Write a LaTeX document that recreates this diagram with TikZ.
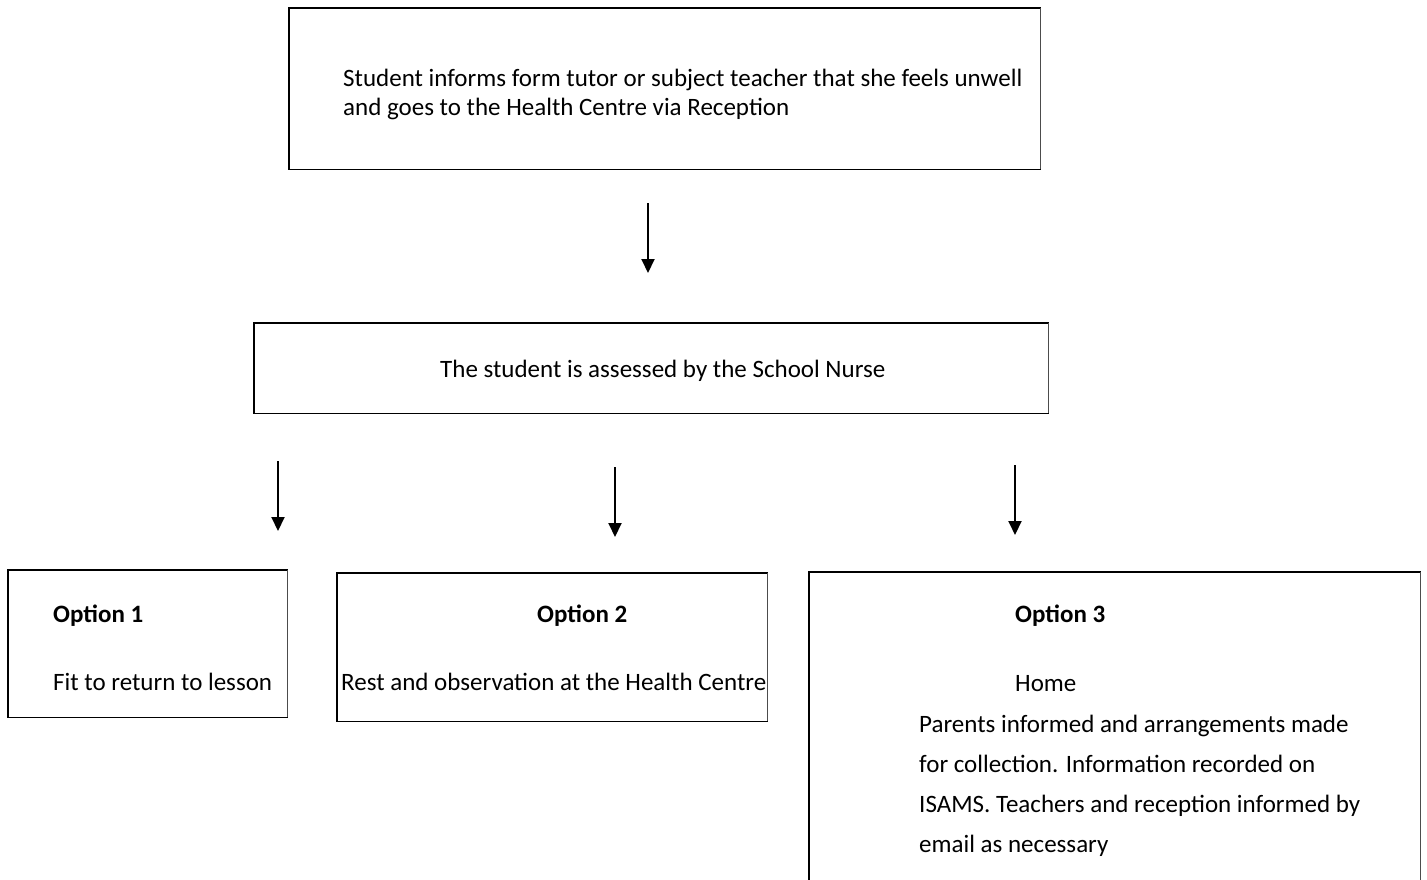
\documentclass[tikz,border=0pt]{standalone}
\usepackage{fontspec}
\setmainfont{Carlito}
\usetikzlibrary{arrows.meta}
\begin{document}
\begin{tikzpicture}[x=1pt,y=-1pt,
  box/.style={inner sep=0pt, anchor=north west},
  edge/.style={draw=black, line width=1.8pt},
  redge/.style={draw=black!70, line width=1.1pt},
  txt/.style={inner sep=0pt, anchor=base west, font=\fontsize{25}{30}\selectfont},
  btxt/.style={txt, font=\fontsize{25}{30}\selectfont\bfseries},
  arr/.style={-{Triangle[length=14pt,width=13pt]}, line width=2pt}]
\useasboundingbox (0,0) rectangle (1427,880);
% boxes
\node[box, minimum width=751pt, minimum height=161pt] (bA) at (289,8) {};
\node[box, minimum width=794pt, minimum height=90pt] (bB) at (254,323) {};
\node[box, minimum width=279pt, minimum height=147pt] (bC1) at (8,570) {};
\node[box, minimum width=430pt, minimum height=148pt] (bC2) at (337,573) {};
\node[box, minimum width=611pt, minimum height=360pt] (bC3) at (809,572) {};
\foreach \b in {bA,bB,bC1,bC2,bC3}{
  \draw[edge, line cap=rect] (\b.north east) -- (\b.north west) -- (\b.south west) -- (\b.south east);
  \draw[redge] (\b.north east) -- (\b.south east);
}
% texts
\node[txt] (tA1) at (343,87) {Student informs form tutor or subject teacher that she feels unwell};
\node[txt] (tA2) at (343,116) {and goes to the Health Centre via Reception};
\node[txt] (tB) at (440,377) {The student is assessed by the School Nurse};
\node[btxt] (o1) at (53,622) {Option 1};
\node[txt] (t1) at (53,690) {Fit to return to lesson};
\node[btxt] (o2) at (537,622) {Option 2};
\node[txt] (t2) at (341,690) {Rest and observation at the Health Centre};
\node[btxt] (o3) at (1015,622) {Option 3};
\node[txt] (h3) at (1015,691) {Home};
\node[txt] (t3a) at (919,732) {Parents informed and arrangements made};
\node[txt] (t3b) at (919,772) {for collection. Information recorded on};
\node[txt] (t3c) at (919,812) {ISAMS. Teachers and reception informed by};
\node[txt] (t3d) at (919,852) {email as necessary};
% arrows
\coordinate (a1s) at (648,203); \coordinate (a1e) at (648,273);
\coordinate (a2s) at (278,461); \coordinate (a2e) at (278,531);
\coordinate (a3s) at (615,467); \coordinate (a3e) at (615,537);
\coordinate (a4s) at (1015,465); \coordinate (a4e) at (1015,535);
\draw[arr] (a1s) -- (a1e);
\draw[arr] (a2s) -- (a2e);
\draw[arr] (a3s) -- (a3e);
\draw[arr] (a4s) -- (a4e);
\end{tikzpicture}
\end{document}
